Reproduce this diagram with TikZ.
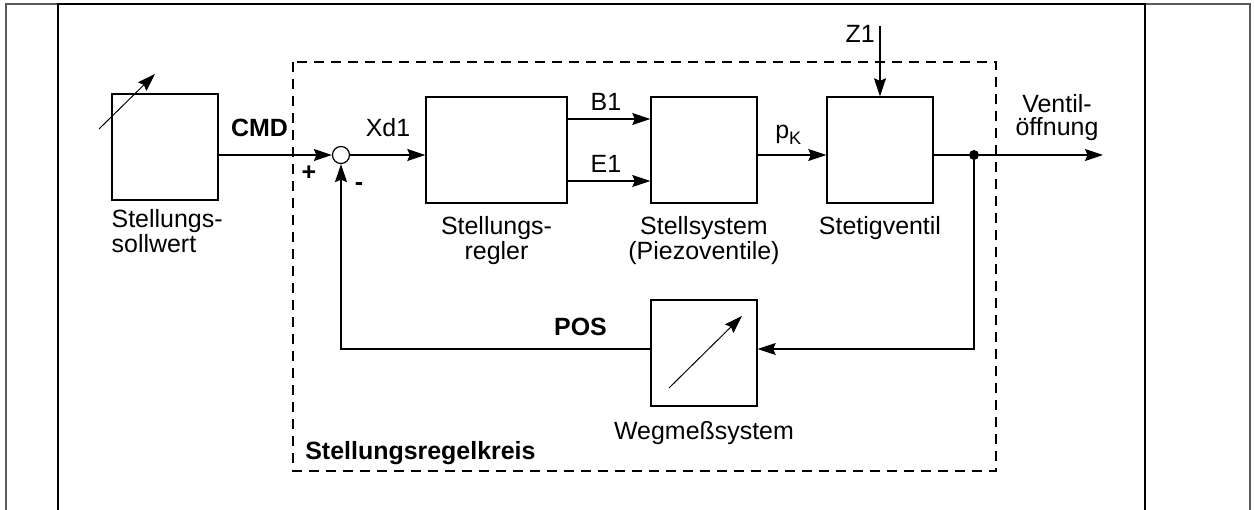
\documentclass[tikz,border=0pt]{standalone}
\usepackage{fontspec}
\setmainfont{Liberation Sans}
\usepackage{xcolor}
\usepackage{tikz}
\usetikzlibrary{arrows.meta,positioning,calc}
\definecolor{srkblack}{HTML}{000000}
\definecolor{srkgray}{HTML}{5A5A5A}
\tikzset{
  box/.style={draw=srkblack,line width=0.8pt,minimum width=2.12cm,minimum height=2.12cm,inner sep=0pt},
  widebox/.style={box,minimum width=2.82cm},
  sumpt/.style={circle,draw=srkblack,line width=0.7pt,minimum size=0.34cm,inner sep=0pt},
  dotpt/.style={circle,fill=srkblack,minimum size=0.2cm,inner sep=0pt},
  ar/.style={-{Stealth[length=0.36cm,width=0.24cm,inset=0.05cm]},draw=srkblack,line width=0.75pt},
  ln/.style={draw=srkblack,line width=0.75pt},
  adj/.style={-{Stealth[length=0.36cm,width=0.24cm,inset=0.05cm]},draw=srkblack,line width=0.55pt},
  lbl/.style={inner sep=0pt,font=\fontsize{14.2}{13}\selectfont},
  lblb/.style={inner sep=0pt,font=\fontsize{14.2}{13}\selectfont\bfseries},
}

\begin{document}
\begin{tikzpicture}[x=0.02cm,y=-0.02cm]
  \useasboundingbox (0,0) rectangle (1255,510);
  % frame
  \draw[srkgray,line width=1.2pt] (6,510) -- (6,4) -- (58,4);
  \draw[srkgray,line width=1.2pt] (1145,4) -- (1250,4) -- (1250,510);
  \draw[line width=1.1pt] (58,510) -- (58,4) -- (1145,4) -- (1145,510);
  % control loop
  \draw[dash pattern=on 0.2cm off 0.14cm,line width=0.75pt] (293,62) rectangle (996,471);
  \node[box] (soll) at (165,147) {};
  \draw[adj] (99,129) -- (155,74);
  \node[sumpt] (sum) at (341,155) {};
  \node[widebox] (regler) at (496.5,150) {};
  \node[box] (stell) at (704,150) {};
  \node[box] (ventil) at (880,150) {};
  \node[box] (weg) at (704,353) {};
  \draw[adj] (669,388) -- (742,316);
  \node[dotpt] (dot) at (974,155) {};
  \coordinate (z1) at (880,26);
  \coordinate (out) at (1103,155);
  \coordinate (fb) at (974,349);
  \draw[ar] (soll.east |- sum) -- (sum.west);
  \draw[ar] (sum.east) -- (regler.west |- sum);
  \draw[ar] ($(regler.east)+(0,-31)$) -- ($(stell.west)+(0,-31)$);
  \draw[ar] ($(regler.east)+(0,31)$) -- ($(stell.west)+(0,31)$);
  \draw[ar] (stell.east |- sum) -- (ventil.west |- sum);
  \draw[ar] (z1) -- (ventil.north);
  \draw[ln] (ventil.east |- sum) -- (dot);
  \draw[ar] (dot) -- (out);
  \draw[ar] (dot) -- (fb) -- (fb -| weg.east);
  \draw[ar] (weg.west |- fb) -- (fb -| sum) -- (sum.south);
  % labels
  \node[lbl,below=0.16cm of soll.south west,anchor=north west,align=left] (solltxt) {Stellungs-\\sollwert};
  \node[lbl,below=0.24cm of regler,align=center] (reglertxt) {Stellungs-\\regler};
  \node[lbl,below=0.24cm of stell,align=center] (stelltxt) {Stellsystem\\(Piezoventile)};
  \node[lbl,below=0.24cm of ventil] (ventiltxt) {Stetigventil};
  \node[lbl,below=0.28cm of weg] (wegtxt) {Wegmeßsystem};
  \node[lblb,anchor=base west] (kreistxt) at (305,459) {Stellungsregelkreis};
  \node[lblb,anchor=base] (cmdtxt) at (259.5,137) {CMD};
  \node[lbl,anchor=base] (xdtxt) at (388,137) {Xd1};
  \node[lblb] (plustxt) at (309,173) {+};
  \node[lblb] (minustxt) at (359,187) {-};
  \node[lbl,anchor=base] (btxt) at (606,111) {B1};
  \node[lbl,anchor=base] (etxt) at (606,173) {E1};
  \node[lbl,anchor=base west] (pktxt) at (775,139) {p\raisebox{-0.12cm}{\fontsize{10.3}{10}\selectfont K}};
  \node[lbl,anchor=base east] (ztxt) at (875,43) {Z1};
  \node[lbl,anchor=north,align=center] (vtxt) at (1057,94) {Ventil-\\öffnung};
  \node[lblb,anchor=base] (postxt) at (580.5,335) {POS};
\end{tikzpicture}
\end{document}
